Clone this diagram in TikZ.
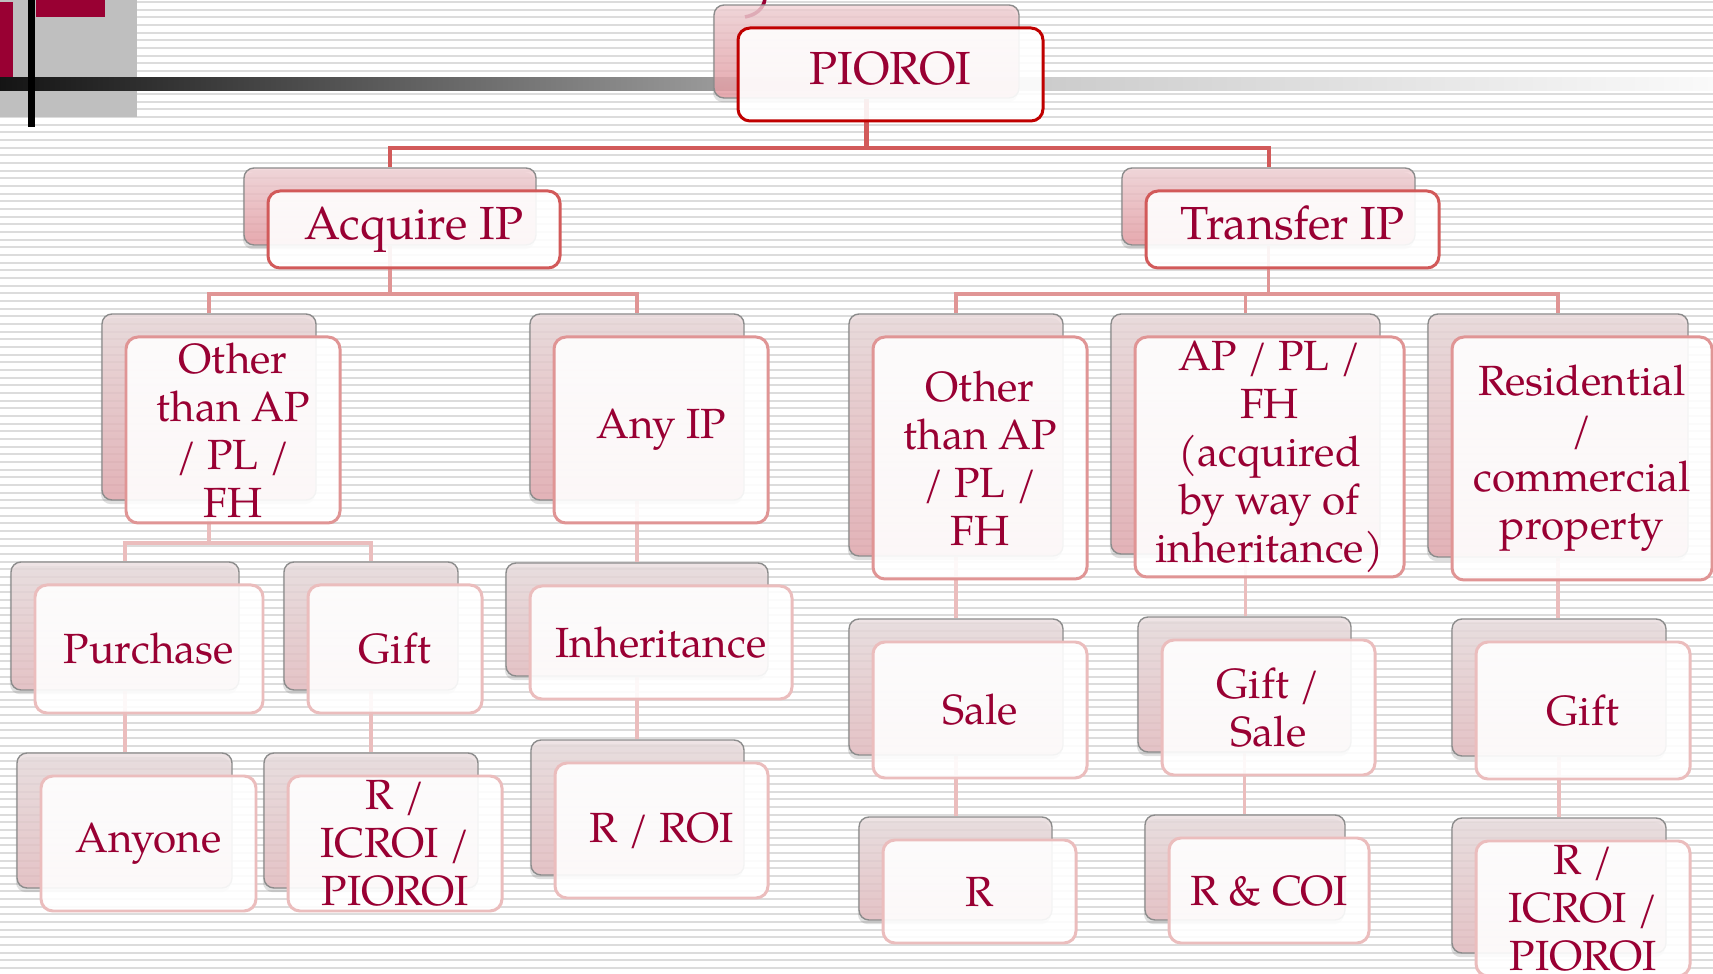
\documentclass[tikz,border=0pt]{standalone}
\usepackage{fontspec}
\setmainfont{texgyrepagella-regular.otf}
\usetikzlibrary{shadows}

\definecolor{maroon}{HTML}{990033}
\definecolor{rimA}{HTML}{C00000}
\definecolor{rimB}{HTML}{D25A5A}
\definecolor{rimC}{HTML}{E09595}
\definecolor{rimD}{HTML}{EBBDBD}
\definecolor{topA}{HTML}{F3D3D7}
\definecolor{botA}{HTML}{E89CA3}
\definecolor{topC}{HTML}{EBDADB}
\definecolor{botC}{HTML}{E4A8AE}
\definecolor{topD}{HTML}{EADEDF}
\definecolor{botD}{HTML}{E6BCC0}
\definecolor{stripe}{HTML}{DCDCDC}

\pgfdeclarelayer{paper}
\pgfdeclarelayer{wires}
\pgfsetlayers{paper,wires,main}

\tikzset
    { back/.style =
        { rounded corners = 0.1cm
        , draw = black!45
        , line width = 0.4pt
        , fill opacity = 0.8
        , drop shadow = {shadow xshift = -0.3pt, shadow yshift = -1.2pt, opacity = 0.25}
        }
    , front/.style =
        { rounded corners = 0.12cm
        , line width = 0.85pt
        , fill = white
        , fill opacity = 0.9
        , text opacity = 1
        , text = maroon
        , align = center
        , inner xsep = 2pt
        , inner ysep = 0pt
        }
    , backA/.style = {top color = topA, bottom color = botA}
    , backB/.style = {top color = topA, bottom color = botA}
    , backC/.style = {top color = topC, bottom color = botC}
    , backD/.style = {top color = topD, bottom color = botD}
    , frontA/.style = {draw = rimA, font = \fontsize{13.2}{15}\selectfont, text height = 0.7em, text depth = 0.15em}
    , frontB/.style = {draw = rimB, font = \fontsize{13.2}{15}\selectfont, text height = 0.7em, text depth = 0.15em}
    , frontC/.style = {draw = rimC, font = \fontsize{12}{13.65}\selectfont}
    , frontD/.style = {draw = rimD, font = \fontsize{12}{13.65}\selectfont}
    , linkA/.style = {draw = rimB, line width = 1.15pt}
    , linkB/.style = {draw = rimC, line width = 1.1pt}
    , linkC/.style = {draw = rimD, line width = 1pt}
    }

% card: name, centre of the back plate, width, height (px), level, text
\newcommand{\orgcard}[6]{%
    \node[back, back#5, minimum width = #3*0.01cm, minimum height = #4*0.01cm] (#1b) at (#2) {};
    \node[front, front#5, minimum width = #3*0.01cm, minimum height = #4*0.01cm]
        (#1) at ([shift={(24,23)}]#1b) {#6};
}

\begin{document}
\begin{tikzpicture}[x = 0.01cm, y = -0.01cm]

    \useasboundingbox (0, 0) rectangle (1713, 974);

    \begin{pgfonlayer}{paper}
        \fill[white] (0, 0) rectangle (1713, 974);
        \foreach \i in {0, 1, ..., 127}
            \fill[stripe] (0, {1 + 7.667*\i}) rectangle (1713, {3 + 7.667*\i});

        % corner ornament and the long bar
        \fill[black!25] (0, 0) rectangle (137, 117);
        \fill[maroon] (0, 2) rectangle (13, 78);
        \fill[maroon] (36, 0) rectangle (105, 17);
        \shade[left color = black!92, right color = black!40] (0, 78) rectangle (715, 91);
        \shade[left color = black!40, right color = black!20] (714, 78) rectangle (1045, 91);
        \shade[left color = black!20, right color = black!2] (1044, 78) rectangle (1713, 91);
        \fill[black] (28, 0) rectangle (35, 127);
        \draw[maroon, line width = 1pt] (765, -1) .. controls (763, 10) and (755, 15) .. (745, 17);
    \end{pgfonlayer}

    \orgcard{pioroi}{866.5, 51.5}{305}{93}{A}{PIOROI}
    \orgcard{acquire}{390, 206.5}{292}{77}{B}{Acquire IP}
    \orgcard{transfer}{1268.5, 206.5}{293}{77}{B}{Transfer IP}

    \orgcard{otheracq}{209, 407}{214}{186}{C}{Other\\than AP\\/ PL /\\FH}
    \orgcard{anyip}{637, 407}{214}{186}{C}{Any IP}
    \orgcard{othertr}{956, 435}{214}{242}{C}{Other\\than AP\\/ PL /\\FH}
    \orgcard{appl}{1245.5, 434}{269}{240}{C}{AP / PL /\\FH\\(acquired\\by way of\\inheritance)}
    \orgcard{resid}{1558, 435.5}{260}{243}{C}{Residential\\/\\commercial\\property}

    \orgcard{purchase}{125, 626}{228}{128}{D}{Purchase}
    \orgcard{giftacq}{371, 626}{174}{128}{D}{Gift}
    \orgcard{anyone}{124.5, 820.5}{215}{135}{D}{Anyone}
    \orgcard{ricroia}{371, 820.5}{214}{135}{D}{R /\\ICROI /\\PIOROI}
    \orgcard{inherit}{637, 619.5}{262}{113}{D}{Inheritance}
    \orgcard{rroi}{637.5, 807.5}{213}{135}{D}{R / ROI}
    \orgcard{sale}{956, 687}{214}{136}{D}{Sale}
    \orgcard{ronly}{955.5, 868.5}{193}{103}{D}{R}
    \orgcard{giftsale}{1244.5, 684.5}{213}{135}{D}{Gift /\\Sale}
    \orgcard{rcoi}{1245, 867.5}{200}{105}{D}{R \& COI}
    \orgcard{gifttr}{1559, 687.5}{214}{137}{D}{Gift}
    \orgcard{ricroit}{1559, 885.5}{214}{135}{D}{R /\\ICROI /\\PIOROI}

    \begin{pgfonlayer}{wires}
        \coordinate (busA) at (0, 148);
        \coordinate (busB) at (0, 294);
        \coordinate (busC) at (0, 543);

        \draw[linkA] (pioroib.south) -- (pioroib.south |- busA) -| (acquireb.north);
        \draw[linkA] (pioroib.south |- busA) -| (transferb.north);

        \draw[linkB] (acquireb.south) -- (acquireb.south |- busB) -| (otheracqb.north);
        \draw[linkB] (acquireb.south |- busB) -| (anyipb.north);
        \draw[linkB] (transferb.south) -- (transferb.south |- busB) -| (othertrb.north);
        \draw[linkB] (transferb.south |- busB) -| (applb.north);
        \draw[linkB] (transferb.south |- busB) -| (residb.north);

        \draw[linkC] (otheracqb.south) -- (otheracqb.south |- busC) -| (purchaseb.north);
        \draw[linkC] (otheracqb.south |- busC) -| (giftacqb.north);
        \draw[linkC] (purchaseb.south) -- (purchaseb.south |- anyoneb.north);
        \draw[linkC] (giftacqb.south) -- (giftacqb.south |- ricroiab.north);
        \draw[linkC] (anyipb.south) -- (anyipb.south |- inheritb.north);
        \draw[linkC] (inheritb.south) -- (inheritb.south |- rroib.north);
        \draw[linkC] (othertrb.south) -- (othertrb.south |- saleb.north);
        \draw[linkC] (saleb.south) -- (saleb.south |- ronlyb.north);
        \draw[linkC] (applb.south) -- (applb.south |- giftsaleb.north);
        \draw[linkC] (giftsaleb.south) -- (giftsaleb.south |- rcoib.north);
        \draw[linkC] (residb.south) -- (residb.south |- gifttrb.north);
        \draw[linkC] (gifttrb.south) -- (gifttrb.south |- ricroitb.north);
    \end{pgfonlayer}

\end{tikzpicture}
\end{document}
